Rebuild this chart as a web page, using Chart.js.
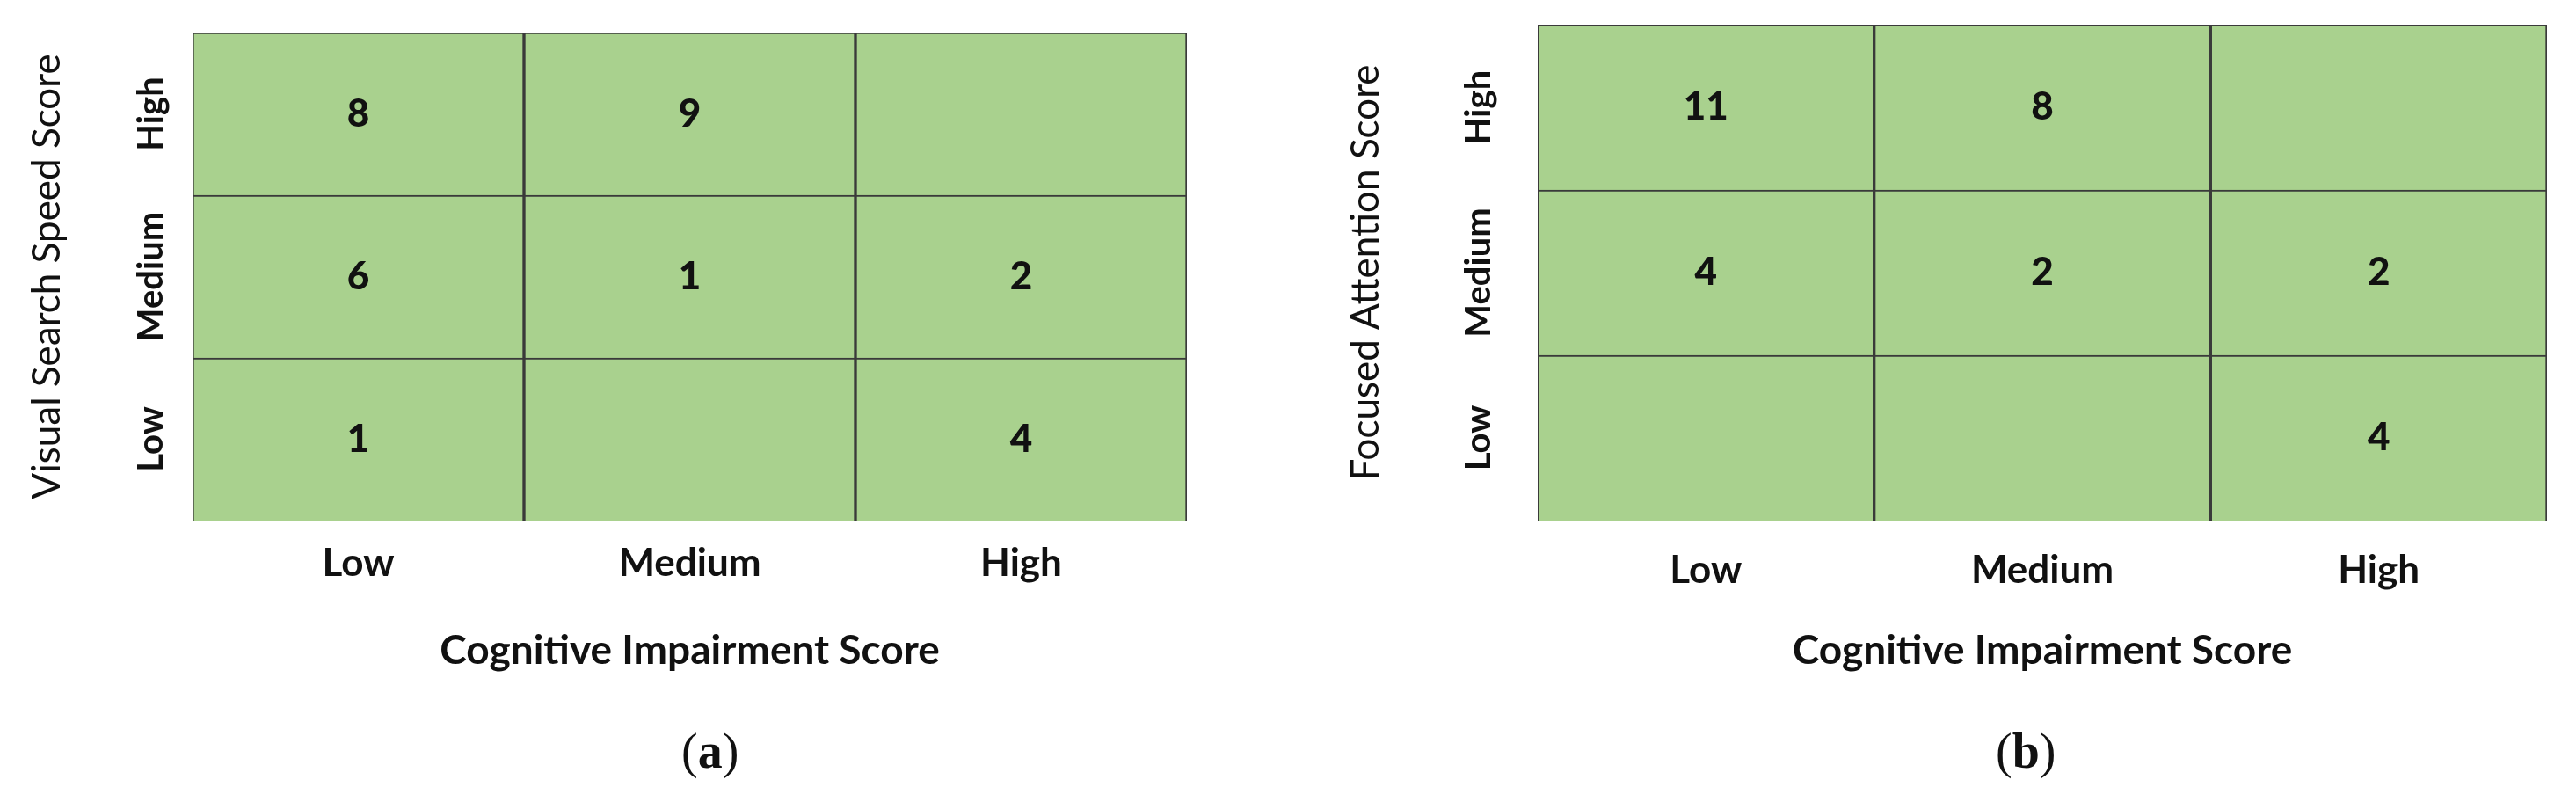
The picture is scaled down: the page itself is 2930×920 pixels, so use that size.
<!DOCTYPE html>
<html>
<head>
<meta charset="UTF-8">
<script src="https://cdn.jsdelivr.net/npm/chart.js"></script>
<style>
  body { margin: 0; background: #fff; width: 2930px; height: 920px; position: relative; overflow: hidden; }
  .panel { position: absolute; top: 0; width: 1465px; height: 920px; }
  .cap { position: absolute; top: 822px; font-family: "Liberation Serif", serif; font-size: 56px; color: #111; }
</style>
</head>
<body>
  <div class="panel" style="left:0"><canvas id="chartA" width="1465" height="920"></canvas></div>
  <div class="panel" style="left:1465px"><canvas id="chartB" width="1465" height="920"></canvas></div>
  <div class="cap" style="left:775px">(<b>a</b>)</div>
  <div class="cap" style="left:2270px">(<b>b</b>)</div>
<script>
const levels = ['Low', 'Medium', 'High'];
const xTitle = 'Cognitive Impairment Score';

// rows = y level, columns = cognitive impairment Low/Medium/High
const visualLow = [1, null, 4];
const visualMedium = [6, 1, 2];
const visualHigh = [8, 9, null];

const focusedLow = [null, null, 4];
const focusedMedium = [4, 2, 2];
const focusedHigh = [11, 8, null];

const fill = '#a9d18e';
const font = 'Lato, "Open Sans", sans-serif';

// writes counts in the cells and the y labels on the left
const cellText = {
  id: 'cellText',
  afterDatasetsDraw(chart, args, opts) {
    const ctx = chart.ctx;
    ctx.save();
    ctx.fillStyle = '#111';
    ctx.textAlign = 'center';
    ctx.textBaseline = 'middle';
    ctx.font = '900 44px ' + font;
    chart.data.datasets.forEach((ds, i) => {
      chart.getDatasetMeta(i).data.forEach((bar, j) => {
        const v = ds.counts[j];
        if (v != null) ctx.fillText(String(v), bar.x, (bar.y + bar.base) / 2);
      });
    });
    const ys = chart.scales.y;
    ctx.font = 'bold 40px ' + font;
    levels.forEach((lv, i) => {
      ctx.save();
      ctx.translate(opts.tickX, ys.getPixelForValue(i + 0.5));
      ctx.rotate(-Math.PI / 2);
      ctx.fillText(lv, 0, 0);
      ctx.restore();
    });
    ctx.font = '44px ' + font;
    ctx.save();
    ctx.translate(opts.titleX, (chart.chartArea.top + chart.chartArea.bottom) / 2);
    ctx.rotate(-Math.PI / 2);
    ctx.fillText(opts.title, 0, 0);
    ctx.restore();
    ctx.restore();
  }
};

function makeChart(id, rows, yTitle, pad, tickX, titleX, tickPad, titlePad) {
  return new Chart(document.getElementById(id), {
    type: 'bar',
    data: {
      labels: levels,
      datasets: rows.map(r => ({
        data: levels.map(() => 1),
        counts: r,
        backgroundColor: fill,
        borderColor: '#3a3a3a',
        borderWidth: 2,
        barPercentage: 1,
        categoryPercentage: 1
      }))
    },
    options: {
      responsive: false,
      animation: false,
      layout: { padding: pad },
      plugins: {
        legend: { display: false },
        tooltip: { enabled: false },
        cellText: { tickX: tickX, titleX: titleX, title: yTitle }
      },
      scales: {
        x: {
          stacked: true,
          grid: { display: false },
          border: { display: false },
          ticks: { color: '#111', font: { family: font, size: 44, weight: 'bold' }, padding: tickPad },
          title: { display: true, text: xTitle, color: '#111', font: { family: font, size: 46, weight: 'bold' }, padding: { top: titlePad } }
        },
        y: { stacked: true, display: false, min: 0, max: 3 }
      }
    },
    plugins: [cellText]
  });
}

makeChart('chartA', [visualLow, visualMedium, visualHigh], 'Visual Search Speed Score',
  { left: 219, right: 115, top: 37, bottom: 148 }, 172, 54, 14, 32);
makeChart('chartB', [focusedLow, focusedMedium, focusedHigh], 'Focused Attention Score',
  { left: 284, right: 33, top: 28, bottom: 148 }, 217, 89, 22, 16);
</script>
</body>
</html>
